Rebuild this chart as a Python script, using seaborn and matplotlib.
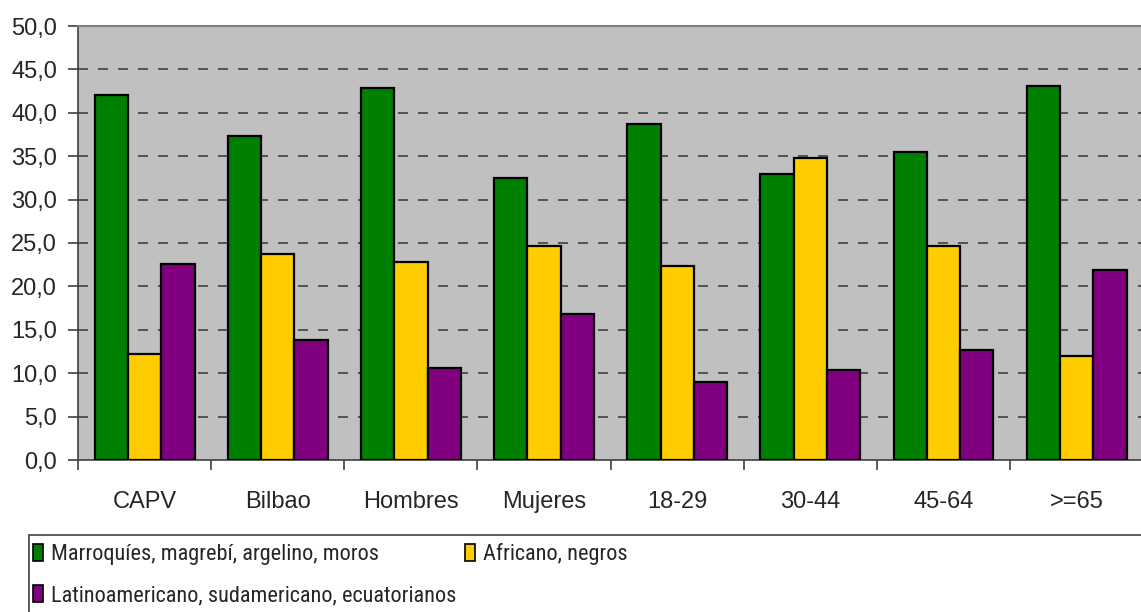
import pandas as pd
import matplotlib.pyplot as plt
import seaborn as sns
from matplotlib import font_manager
from matplotlib.patches import Rectangle, Patch
from matplotlib.ticker import FuncFormatter, FixedLocator

# Données
categorias = ["CAPV", "Bilbao", "Hombres", "Mujeres", "18-29", "30-44", "45-64", ">=65"]
series = ["Marroquíes, magrebí, argelino, moros",
          "Africano, negros",
          "Latinoamericano, sudamericano, ecuatorianos"]
marroquies = [42.1, 37.3, 42.8, 32.5, 38.7, 33.0, 35.5, 43.1]
africanos = [12.2, 23.7, 22.8, 24.7, 22.3, 34.8, 24.7, 12.0]
latinos = [22.6, 13.8, 10.6, 16.8, 9.0, 10.4, 12.7, 21.9]
colores = ["#008000", "#FFCC00", "#800080"]

df = pd.DataFrame({
    "categoria": categorias * 3,
    "serie": [series[0]] * 8 + [series[1]] * 8 + [series[2]] * 8,
    "valor": marroquies + africanos + latinos,
})

sns.set_style("white")
plt.rcParams['font.family'] = ['Liberation Sans', 'DejaVu Sans']

# Police étroite pour la légende si disponible
noms = {f.name for f in font_manager.fontManager.ttflist}
police_leg = "Liberation Sans"
for cand in ["Liberation Sans Narrow", "Roboto Condensed", "Open Sans Condensed", "DejaVu Sans Condensed"]:
    if cand in noms:
        police_leg = cand
        break

fig = plt.figure(figsize=(11.41, 6.12), dpi=100)
ax = fig.add_axes([78 / 1141, 152 / 612, 1 - 78 / 1141 + 0.002, 434 / 612])
ax.set_facecolor("#C0C0C0")

sns.barplot(data=df, x="categoria", y="valor", hue="serie", palette=colores,
            saturation=1, width=0.75, edgecolor="black", linewidth=1.6, ax=ax,
            legend=False, zorder=3)

ax.set_ylim(0, 50)
ax.set_xlim(-0.5, 7.5)
ax.set_xlabel("")
ax.set_ylabel("")

# Grille en tirets
ax.yaxis.set_major_locator(FixedLocator([i * 5 for i in range(11)]))
ax.yaxis.set_major_formatter(FuncFormatter(lambda v, p: f"{v:.1f}".replace(".", ",")))
for yv in range(5, 50, 5):
    ax.axhline(yv, color="#404040", linestyle=(0, (6, 6)), linewidth=1.2, zorder=1)

ax.spines["right"].set_visible(False)
ax.spines["top"].set_color("#808080")
ax.spines["top"].set_linewidth(1.5)
for s in ["left", "bottom"]:
    ax.spines[s].set_color("#404040")
    ax.spines[s].set_linewidth(1.2)

ax.tick_params(axis="y", length=7, width=1.2, color="#404040", labelsize=17, pad=8, left=True)
ax.tick_params(axis="x", which="major", length=0, labelsize=17, pad=22, bottom=True)
ax.set_xticks([i + 0.5 for i in range(-1, 8)], minor=True)
ax.tick_params(axis="x", which="minor", length=7, width=1.2, color="#404040", bottom=True)

# Légende dans un cadre
fig.patches.append(Rectangle((29 / 1141, -0.01), 1.0, 77 / 612 + 0.01,
                             transform=fig.transFigure, facecolor="white",
                             edgecolor="#404040", linewidth=1.2))
handles = [Patch(facecolor=c, edgecolor="black", linewidth=1.2) for c in colores]
order = [0, 2, 1]
leg = fig.legend([handles[i] for i in order], [series[i] for i in order],
                 ncol=2, loc="upper left", bbox_to_anchor=(33 / 1141, 69 / 612),
                 frameon=False, handlelength=0.45, handleheight=0.8, handletextpad=0.35,
                 columnspacing=0.4, labelspacing=0.9, borderpad=0, borderaxespad=0,
                 prop={"family": [police_leg, "DejaVu Sans"], "size": 16})

fig.savefig("out.png", dpi=100)
